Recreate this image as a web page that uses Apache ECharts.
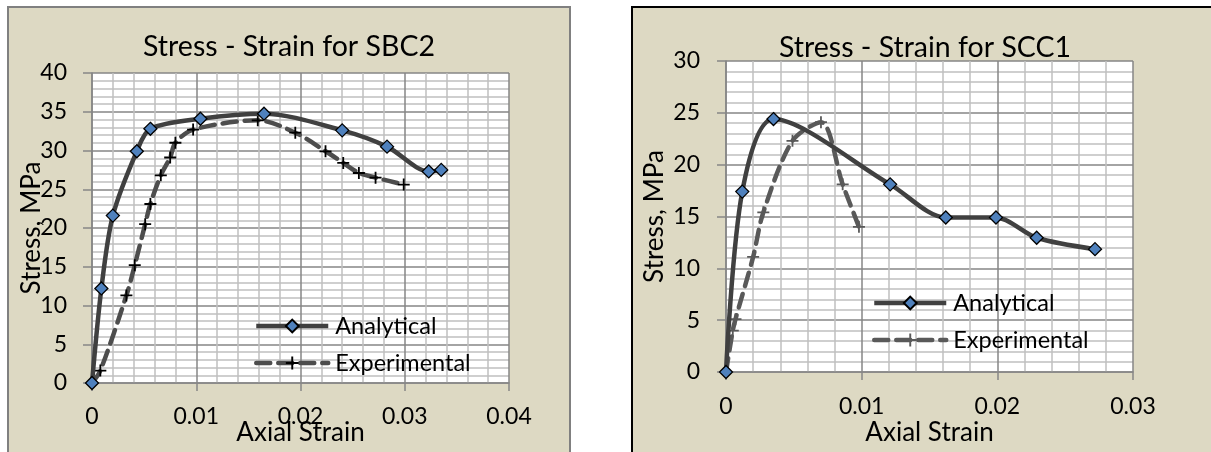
<!DOCTYPE html>
<html>
<head>
<meta charset="utf-8">
<script src="https://cdn.jsdelivr.net/npm/echarts@6/dist/echarts.min.js"></script>
<style>
  html, body { margin: 0; padding: 0; background: #ffffff; }
  #wrap { position: relative; width: 1211px; height: 452px; overflow: hidden; }
  #sbc2 { position: absolute; left: 0; top: 0; width: 600px; height: 452px; }
  #scc1 { position: absolute; left: 600px; top: 0; width: 611px; height: 452px; }
</style>
</head>
<body>
<div id="wrap">
  <div id="sbc2"></div>
  <div id="scc1"></div>
</div>
<script>
// ---- SBC2 specimen: axial strain vs stress (MPa)
const sbc2AnalyticalStrain = [0, 0.0009, 0.002, 0.0043, 0.0056, 0.0104, 0.0165, 0.0240, 0.0283, 0.0323, 0.0335];
const sbc2AnalyticalStress = [0, 12.2, 21.6, 29.9, 32.8, 34.1, 34.75, 32.6, 30.5, 27.3, 27.5];
const sbc2ExperimentalStrain = [0, 0.0008, 0.0033, 0.0041, 0.0051, 0.0056, 0.0066, 0.0075, 0.0080, 0.0097, 0.0159, 0.0195, 0.0224, 0.0241, 0.0256, 0.0272, 0.0299];
const sbc2ExperimentalStress = [0, 1.6, 11.3, 15.2, 20.5, 23.1, 26.8, 29.1, 31.0, 32.7, 33.9, 32.3, 29.9, 28.4, 27.1, 26.5, 25.6];

// ---- SCC1 specimen
const scc1AnalyticalStrain = [0, 0.0012, 0.0035, 0.0121, 0.0162, 0.0199, 0.0229, 0.0272];
const scc1AnalyticalStress = [0, 17.4, 24.4, 18.1, 14.9, 14.9, 12.95, 11.85];
const scc1ExperimentalStrain = [0, 0.0005, 0.0007, 0.0020, 0.00275, 0.0049, 0.0070, 0.0086, 0.0098];
const scc1ExperimentalStress = [0, 4.0, 5.1, 11.1, 15.4, 22.3, 24.1, 18.1, 14.0];

// axis extents and tick steps
const sbc2StrainTicks = { min: 0, max: 0.04, step: 0.01 };
const sbc2StressTicks = { min: 0, max: 40, step: 5 };
const scc1StrainTicks = { min: 0, max: 0.03, step: 0.01 };
const scc1StressTicks = { min: 0, max: 30, step: 5 };

const seriesNames = ['Analytical', 'Experimental'];
const axisTitleX = 'Axial Strain';
const axisTitleY = 'Stress, MPa';

const FONT = 'Lato';
const PLUS = 'path://M0,5.1H12V6.9H0Z M5.1,0H6.9V12H5.1Z';
const LINE_W = 4.5;

function pairs(xs, ys) { return xs.map((x, i) => [x, ys[i]]); }

function buildOption(c) {
  const label = { color: '#000', fontFamily: FONT, fontSize: 23, lineHeight: 23 };
  const nameStyle = { color: '#000', fontFamily: FONT, fontSize: 26, lineHeight: 26 };
  const axisCommon = {
    type: 'value', nameLocation: 'middle', nameTextStyle: nameStyle, nameMoveOverlap: false,
    axisLine: { show: true, onZero: false, lineStyle: { color: '#868686', width: 1.5 } },
    splitLine: { show: true, lineStyle: { color: '#868686', width: 1.5 } },
    minorTick: { show: false, splitNumber: 5 },
    minorSplitLine: { show: true, lineStyle: { color: '#C0C0C0', width: 1.5 } }
  };
  return {
    animation: false,
    backgroundColor: 'transparent',
    graphic: [{
      type: 'rect', z: -10, silent: true,
      shape: c.frame,
      style: { fill: '#DDD9C3', stroke: c.frameColor, lineWidth: 2 }
    }],
    title: {
      text: c.title, left: c.titleX, top: c.titleY, textAlign: 'center', padding: 0,
      textStyle: { color: '#000', fontFamily: FONT, fontSize: 28.5, fontWeight: 'normal', lineHeight: 30 }
    },
    legend: {
      orient: 'vertical', left: c.legendX, top: c.legendY, padding: 0,
      itemWidth: 72, itemHeight: 16, itemGap: 13, selectedMode: false,
      lineStyle: { width: LINE_W },
      textStyle: { color: '#000', fontFamily: FONT, fontSize: 23.5, lineHeight: 24, padding: [0, 0, 0, 2] },
      data: seriesNames
    },
    grid: {
      left: c.grid.left, top: c.grid.top, width: c.grid.width, height: c.grid.height,
      outerBoundsMode: 'none', containLabel: false,
      show: true, backgroundColor: '#ffffff', borderWidth: 0
    },
    xAxis: Object.assign({}, axisCommon, {
      min: c.xTicks.min, max: c.xTicks.max, interval: c.xTicks.step,
      name: axisTitleX, nameGap: c.xNameGap,
      axisTick: { show: true, length: 8, lineStyle: { color: '#868686', width: 1.5 } },
      axisLabel: Object.assign({ margin: c.xLabelMargin }, label)
    }),
    yAxis: Object.assign({}, axisCommon, {
      min: c.yTicks.min, max: c.yTicks.max, interval: c.yTicks.step,
      name: axisTitleY, nameGap: c.yNameGap, nameRotate: 90,
      axisTick: { show: true, length: 9, lineStyle: { color: '#868686', width: 1.5 } },
      axisLabel: Object.assign({ margin: c.yLabelMargin }, label)
    }),
    series: [
      {
        name: seriesNames[0], type: 'line', data: c.analytical, smooth: 0.3, clip: false,
        symbol: 'diamond', symbolSize: 13, showAllSymbol: true,
        lineStyle: { color: '#404040', width: LINE_W },
        itemStyle: { color: '#4F81BD', borderColor: '#000000', borderWidth: 1.3 },
        z: 3
      },
      {
        name: seriesNames[1], type: 'line', data: c.experimental, smooth: 0.3, clip: false,
        symbol: PLUS, symbolSize: 12, showAllSymbol: true,
        lineStyle: { color: c.expLine, width: LINE_W, type: [14, 8], cap: 'round' },
        itemStyle: { color: c.plusColor, borderWidth: 0 },
        z: 2
      }
    ]
  };
}

const sbc2Chart = echarts.init(document.getElementById('sbc2'), null, { renderer: 'canvas' });
sbc2Chart.setOption(buildOption({
  title: 'Stress - Strain for SBC2', titleX: 289, titleY: 32,
  frame: { x: 8, y: 7, width: 562, height: 470 }, frameColor: '#808080',
  grid: { left: 92, top: 73, width: 417, height: 310 },
  xTicks: sbc2StrainTicks, yTicks: sbc2StressTicks,
  xNameGap: 37, yNameGap: 47, xLabelMargin: 22, yLabelMargin: 25,
  legendX: 254, legendY: 314,
  analytical: pairs(sbc2AnalyticalStrain, sbc2AnalyticalStress),
  experimental: pairs(sbc2ExperimentalStrain, sbc2ExperimentalStress),
  expLine: '#4D4D4D', plusColor: '#000000'
}));

const scc1Chart = echarts.init(document.getElementById('scc1'), null, { renderer: 'canvas' });
scc1Chart.setOption(buildOption({
  title: 'Stress - Strain for SCC1', titleX: 325, titleY: 33,
  frame: { x: 32, y: 7, width: 620, height: 470 }, frameColor: '#000000',
  grid: { left: 126, top: 61, width: 407, height: 311 },
  xTicks: scc1StrainTicks, yTicks: scc1StressTicks,
  xNameGap: 48, yNameGap: 58, xLabelMargin: 23, yLabelMargin: 26,
  legendX: 272, legendY: 291,
  analytical: pairs(scc1AnalyticalStrain, scc1AnalyticalStress),
  experimental: pairs(scc1ExperimentalStrain, scc1ExperimentalStress),
  expLine: '#595959', plusColor: '#595959'
}));
</script>
</body>
</html>
